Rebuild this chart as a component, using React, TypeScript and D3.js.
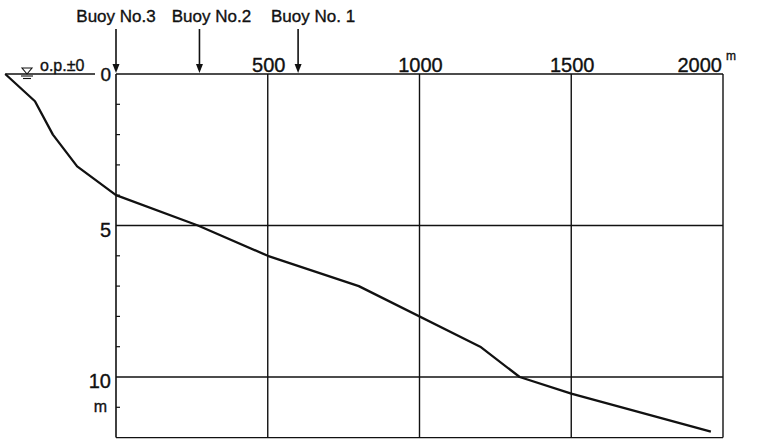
import React from "react";
import * as d3 from "d3";

// Profile data: distance (m) from Buoy No.3 and depth below o.p.±0 (m)
const distances = [-365, -267, -208, -128, 0, 270, 500, 800, 1200, 1330, 1500, 1960];
const depths = [0, 0.9, 2.0, 3.05, 4.0, 5.0, 6.0, 7.0, 9.0, 10.0, 10.55, 11.8];

const xTicks = [0, 500, 1000, 1500, 2000];
const xTickLabels = ["0", "500", "1000", "1500", "2000"];
const yMajor = [0, 5, 10];
const yMajorLabels = ["0", "5", "10"];
const yMinor = [1, 2, 3, 4, 6, 7, 8, 9, 11];

const buoyNames = ["Buoy No.3", "Buoy No.2", "Buoy No. 1"];
const buoyPositions = [0, 275, 600];
const buoyLabelShift = [0, 12, 15];

const W = 765;
const H = 442;
const FONT = "'Liberation Sans', Arial, sans-serif";

export default function App() {
  const x = d3.scaleLinear().domain([0, 2000]).range([116, 723]);
  const y = d3.scaleLinear().domain([0, 12]).range([74, 437.6]);

  const pts: [number, number][] = distances.map((d, i) => [d, depths[i]]);
  const line = d3
    .line<[number, number]>()
    .x((d) => x(d[0]))
    .y((d) => y(d[1]));

  const x0 = x(0);
  const x2000 = x(2000);
  const yTop = y(0);
  const yBot = y(12);
  const stroke = "#111";
  const txt = { fontFamily: FONT, fill: stroke, stroke: stroke, strokeWidth: 0.35 };

  return (
    <svg
      width={W}
      height={H}
      viewBox={`0 0 ${W} ${H}`}
      style={{ position: "absolute", left: 0, top: 0, background: "#fff" }}
    >
      <rect x={0} y={0} width={W} height={H} fill="#fff" />
      {/* frame */}
      <line x1={x0} x2={x2000} y1={yTop} y2={yTop} stroke={stroke} strokeWidth={1.6} />
      <line x1={x0} x2={x0} y1={yTop} y2={yBot} stroke={stroke} strokeWidth={1.6} />
      <line x1={x2000} x2={x2000} y1={yTop} y2={yBot} stroke={stroke} strokeWidth={1.4} />
      <line x1={x0} x2={x2000} y1={yBot} y2={yBot} stroke={stroke} strokeWidth={1.4} />
      {/* water surface line to left */}
      <line x1={x(distances[0])} x2={x0 - 21} y1={yTop} y2={yTop} stroke={stroke} strokeWidth={1.4} />

      {/* vertical grid */}
      {xTicks.slice(1, -1).map((t) => (
        <line key={"vx" + t} x1={x(t)} x2={x(t)} y1={yTop} y2={yBot} stroke={stroke} strokeWidth={1.4} />
      ))}
      {/* horizontal grid */}
      {yMajor.slice(1).map((t) => (
        <line key={"hy" + t} x1={x0} x2={x2000} y1={y(t)} y2={y(t)} stroke={stroke} strokeWidth={1.3} />
      ))}
      {/* minor ticks */}
      {yMinor.map((t) => (
        <line key={"mt" + t} x1={x0} x2={x0 + 4} y1={y(t)} y2={y(t)} stroke={stroke} strokeWidth={1.2} />
      ))}

      {/* x tick labels */}
      {xTicks.map((t, i) => {
        if (t === 0) return null;
        const last = i === xTicks.length - 1;
        return (
          <text
            key={"xl" + t}
            x={last ? x(t) - 1 : x(t) + 1}
            y={yTop - 2}
            fontSize={20}
            textAnchor={last ? "end" : "middle"}
            {...txt}
          >
            {xTickLabels[i]}
          </text>
        );
      })}
      <text x={x2000 + 3} y={yTop - 14} fontSize={12} {...txt}>
        m
      </text>

      {/* y labels */}
      {yMajor.map((t, i) => (
        <text
          key={"yl" + t}
          x={x0 - 5}
          y={y(t) + (t === 0 ? 7 : 11)}
          fontSize={t === 0 ? 19 : 20}
          textAnchor="end"
          {...txt}
        >
          {yMajorLabels[i]}
        </text>
      ))}
      <text x={x0 - 9} y={y(11.15)} fontSize={16} textAnchor="end" {...txt}>
        m
      </text>

      {/* o.p. label and water symbol */}
      <text x={40} y={yTop - 3} fontSize={16} {...txt}>
        o.p.±0
      </text>
      <path d={`M22,${yTop - 6} L32,${yTop - 6} L27,${yTop} Z`} fill="none" stroke={stroke} strokeWidth={1.1} />
      <line x1={21} x2={33} y1={yTop + 2} y2={yTop + 2} stroke={stroke} strokeWidth={1.1} />
      <line x1={23} x2={31} y1={yTop + 4.5} y2={yTop + 4.5} stroke={stroke} strokeWidth={1.1} />

      {/* buoys */}
      {buoyNames.map((name, i) => {
        const bx = x(buoyPositions[i]);
        return (
          <g key={name}>
            <text x={bx + buoyLabelShift[i]} y={22} fontSize={17} textAnchor="middle" {...txt}>
              {name}
            </text>
            <line x1={bx} x2={bx} y1={29} y2={yTop - 4} stroke={stroke} strokeWidth={1.6} />
            <path d={`M${bx - 3.5},${yTop - 10} L${bx + 3.5},${yTop - 10} L${bx},${yTop - 1} Z`} fill={stroke} />
          </g>
        );
      })}

      {/* profile */}
      <path d={line(pts) || ""} fill="none" stroke={stroke} strokeWidth={2.3} strokeLinejoin="round" />
    </svg>
  );
}
